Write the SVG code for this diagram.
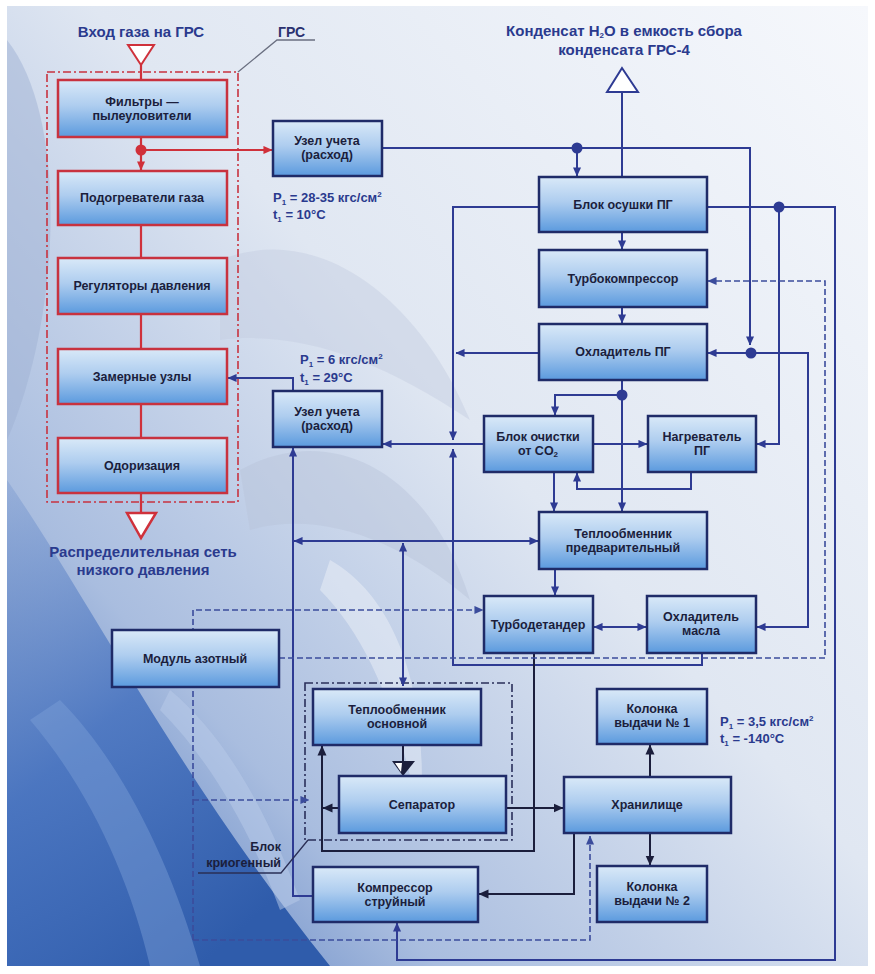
<svg xmlns="http://www.w3.org/2000/svg" width="875" height="974" viewBox="0 0 875 974">
  <defs>
    <linearGradient id="bg" x1="1" y1="0" x2="0" y2="1">
      <stop offset="0" stop-color="#f6f8fc"/>
      <stop offset="0.45" stop-color="#e0e7f2"/>
      <stop offset="0.75" stop-color="#a9bddf"/>
      <stop offset="1" stop-color="#3c68b5"/>
    </linearGradient>
    <linearGradient id="deep" x1="0" y1="0" x2="0.6" y2="1">
      <stop offset="0" stop-color="#7b9ad0" stop-opacity="0.4"/>
      <stop offset="0.5" stop-color="#4672bf" stop-opacity="0.85"/>
      <stop offset="1" stop-color="#2f5cab"/>
    </linearGradient>
    <linearGradient id="ng" x1="0" y1="0" x2="0" y2="1">
      <stop offset="0" stop-color="#d9e9f8"/>
      <stop offset="0.45" stop-color="#aecdef"/>
      <stop offset="1" stop-color="#5b9ade"/>
    </linearGradient>
    <marker id="ab" viewBox="0 0 10 10" refX="9.5" refY="5" markerWidth="9" markerHeight="9" markerUnits="userSpaceOnUse" orient="auto-start-reverse">
      <path d="M0,0.5 L10,5 L0,9.5 z" fill="#2e3b93"/>
    </marker>
    <marker id="ak" viewBox="0 0 10 10" refX="9.5" refY="5" markerWidth="10" markerHeight="10" markerUnits="userSpaceOnUse" orient="auto-start-reverse">
      <path d="M0,0.5 L10,5 L0,9.5 z" fill="#1b1e3c"/>
    </marker>
    <marker id="ar" viewBox="0 0 10 10" refX="9.5" refY="5" markerWidth="9" markerHeight="9" markerUnits="userSpaceOnUse" orient="auto">
      <path d="M0,0.5 L10,5 L0,9.5 z" fill="#d0303a"/>
    </marker>
    <marker id="ad" viewBox="0 0 10 10" refX="9.5" refY="5" markerWidth="9" markerHeight="9" markerUnits="userSpaceOnUse" orient="auto">
      <path d="M0,0.5 L10,5 L0,9.5 z" fill="#3b4c9c"/>
    </marker>
    <style>
      .node rect { fill: url(#ng); stroke: #1f2b68; stroke-width: 2.5; }
      .grs rect { stroke: #c8323f; }
      text { font-family: "Liberation Sans", Arial, sans-serif; font-weight: bold; }
      .lbl { font-size: 12.5px; fill: #1b1e3c; text-anchor: middle; }
      .hd { font-size: 15px; fill: #2a3a8e; text-anchor: middle; }
      .prm { font-size: 13px; fill: #2a3a8e; }
      .c { stroke: #2e3b93; stroke-width: 2; fill: none; }
      .k { stroke: #1b1e3c; stroke-width: 2; fill: none; }
      .r { stroke: #cf313b; stroke-width: 2.2; fill: none; }
      .d { stroke: #3b4c9c; stroke-width: 1.6; fill: none; stroke-dasharray: 6 3; }
      .cb { marker-end: url(#ab); }
      .ck { marker-end: url(#ak); }
      .cr { marker-end: url(#ar); }
      .cd { marker-end: url(#ad); }
      .both { marker-start: url(#ab); marker-end: url(#ab); }
    </style>
  </defs>

  <!-- backdrop -->
  <rect width="875" height="974" fill="#ffffff"/>
  <g id="backdrop">
    <rect x="7" y="6" width="861" height="960" fill="url(#bg)"/>
    <path d="M7,40 C70,120 60,320 7,440 Z" fill="#9fb2d4" opacity="0.5"/>
    <path d="M7,480 C90,600 180,780 330,966 L7,966 Z" fill="url(#deep)"/>
    <path d="M60,700 C120,760 170,860 200,966 L150,966 C130,880 90,790 30,720 Z" fill="#7d9fd6" opacity="0.45"/>
    <path d="M170,690 C230,740 270,820 300,900 L280,910 C250,830 210,760 160,710 Z" fill="#b9cbea" opacity="0.5"/>
    <path d="M220,260 C320,220 420,300 470,420 C380,360 300,330 220,340 Z" fill="#c4cde0" opacity="0.45"/>
    <path d="M240,470 C330,420 430,470 470,600 C400,540 320,510 250,530 Z" fill="#b8c3d9" opacity="0.45"/>
    <path d="M330,560 C400,600 430,700 420,820 C400,720 370,640 320,590 Z" fill="#ffffff" opacity="0.35"/>
  </g>

  <!-- group frames -->
  <g id="frames">
    <rect x="47" y="72" width="191" height="430" fill="none" stroke="#c8323f" stroke-width="1.6" stroke-dasharray="8 3 2 3"/>
    <rect x="305" y="683" width="207" height="157" fill="none" stroke="#2a2f5a" stroke-width="1.6" stroke-dasharray="8 3 2 3"/>
  </g>

  <!-- connectors -->
  <g id="connectors">
    <!-- gas station line -->
    <path class="r" d="M141,65 V80"/>
    <path class="r cr" d="M141,137 V170"/>
    <path class="r cr" d="M141,150 H272"/>
    <path class="r" d="M141,225 V258"/>
    <path class="r" d="M141,314 V349"/>
    <path class="r" d="M141,404 V438"/>
    <path class="r" d="M141,493 V513"/>
    <circle cx="141" cy="150" r="5.5" fill="#d0303a"/>

    <!-- process gas -->
    <path class="c cb" d="M382,148 H750 V345"/>
    <path class="c cb" d="M577,148 V176"/>
    <path class="c" d="M622,177 V92"/>
    <path class="c cb" d="M539,207 H453 V440"/>
    <path class="c cb" d="M707,207 H835 V960 H397 V923"/>
    <path class="c cb" d="M779,207 V444 H757"/>
    <path class="c cb" d="M622,232 V249"/>
    <path class="c cb" d="M622,307 V323"/>
    <path class="c cb" d="M751,353 H708"/>
    <path class="c cb" d="M751,353 H808 V627 H757"/>
    <path class="c cb" d="M539,353 H456"/>
    <path class="c cb" d="M622,380 V511"/>
    <path class="c cb" d="M622,395 H555 V415"/>
    <path class="c cb" d="M484,444 H383"/>
    <path class="c cb" d="M593,444 H647"/>
    <path class="c cb" d="M691,472 V489 H577 V473"/>
    <path class="c cb" d="M554,472 V511"/>
    <path class="c cb" d="M555,569 V595"/>
    <path class="c both" d="M294,541 H538"/>
    <path class="c both" d="M403,543 V686"/>
    <path class="c both" d="M594,627 H646"/>
    <path class="c cb" d="M702,653 V665 H453 V449"/>
    <path class="c cb" d="M293,391 V378 H228"/>
    <path class="c cb" d="M313,896 H293 V448"/>
    <circle cx="577" cy="148" r="5.5" fill="#2e3b93"/>
    <circle cx="779" cy="207" r="5.5" fill="#2e3b93"/>
    <circle cx="751" cy="353" r="5.5" fill="#2e3b93"/>
    <circle cx="622" cy="395" r="5.5" fill="#2e3b93"/>

    <!-- cryogenic part -->
    <path class="k ck" d="M534,653 V851 H322 V746"/>
    <path class="k ck" d="M339,808 H323"/>
    <path class="k" d="M403,745 V762"/>
    <polygon points="392,761 415,761 403,776" fill="#1b1e3c"/>
    <polygon points="395,763 402,763 401,772" fill="#ffffff"/>
    <path class="k ck" d="M506,808 H563"/>
    <path class="k ck" d="M650,777 V745"/>
    <path class="k ck" d="M650,833 V865"/>
    <path class="k ck" d="M574,833 V894 H479"/>

    <!-- nitrogen -->
    <path class="d cd" d="M193,940 V610 H483"/>
    <path class="d cd" d="M193,800 H309"/>
    <path class="d cd" d="M193,940 H590 V836"/>
    <path class="d cd" d="M279,658 H825 V281 H708"/>

    <!-- leaders -->
    <path d="M315,40 H277 L238,72" fill="none" stroke="#6a6f80" stroke-width="1.3"/>
    <path d="M198,873 H281 L308,840" fill="none" stroke="#2a2f55" stroke-width="1.3"/>
  </g>

  <!-- inlet / outlet symbols -->
  <g id="terminals">
    <polygon points="128,45 154,45 141,65" fill="#ffffff" stroke="#cf313b" stroke-width="2"/>
    <polygon points="127,513 156,513 141,538" fill="#ffffff" stroke="#cf313b" stroke-width="2.5"/>
    <polygon points="622,68 607,92 638,92" fill="#ffffff" stroke="#2e3b93" stroke-width="2"/>
  </g>

  <!-- nodes -->
  <g id="filters" class="node grs"><rect x="58" y="80" width="169" height="57"/>
    <text class="lbl" x="142" y="106">Фильтры —</text><text class="lbl" x="142" y="120">пылеуловители</text></g>
  <g id="heaters" class="node grs"><rect x="58" y="171" width="169" height="54"/>
    <text class="lbl" x="142" y="202">Подогреватели газа</text></g>
  <g id="regulators" class="node grs"><rect x="58" y="258" width="169" height="56"/>
    <text class="lbl" x="142" y="290">Регуляторы давления</text></g>
  <g id="metering" class="node grs"><rect x="58" y="349" width="169" height="55"/>
    <text class="lbl" x="142" y="381">Замерные узлы</text></g>
  <g id="odorization" class="node grs"><rect x="58" y="438" width="169" height="55"/>
    <text class="lbl" x="142" y="470">Одоризация</text></g>

  <g id="meter-in" class="node"><rect x="273" y="121" width="109" height="55"/>
    <text class="lbl" x="327" y="145">Узел учета</text><text class="lbl" x="327" y="159">(расход)</text></g>
  <g id="meter-out" class="node"><rect x="273" y="391" width="109" height="56"/>
    <text class="lbl" x="327" y="416">Узел учета</text><text class="lbl" x="327" y="430">(расход)</text></g>
  <g id="dryer" class="node"><rect x="539" y="177" width="168" height="55"/>
    <text class="lbl" x="623" y="209">Блок осушки ПГ</text></g>
  <g id="turbocompressor" class="node"><rect x="539" y="250" width="168" height="57"/>
    <text class="lbl" x="623" y="283">Турбокомпрессор</text></g>
  <g id="gas-cooler" class="node"><rect x="539" y="324" width="168" height="56"/>
    <text class="lbl" x="623" y="356">Охладитель ПГ</text></g>
  <g id="co2-removal" class="node"><rect x="484" y="416" width="109" height="56"/>
    <text class="lbl" x="538" y="441">Блок очистки</text><text class="lbl" x="538" y="455">от CO<tspan font-size="8" dy="2">2</tspan></text></g>
  <g id="gas-heater" class="node"><rect x="648" y="416" width="108" height="56"/>
    <text class="lbl" x="702" y="441">Нагреватель</text><text class="lbl" x="702" y="455">ПГ</text></g>
  <g id="pre-exchanger" class="node"><rect x="539" y="512" width="168" height="57"/>
    <text class="lbl" x="623" y="538">Теплообменник</text><text class="lbl" x="623" y="552">предварительный</text></g>
  <g id="expander" class="node"><rect x="484" y="596" width="109" height="57"/>
    <text class="lbl" x="538" y="629">Турбодетандер</text></g>
  <g id="oil-cooler" class="node"><rect x="647" y="596" width="109" height="57"/>
    <text class="lbl" x="701" y="621">Охладитель</text><text class="lbl" x="701" y="635">масла</text></g>
  <g id="nitrogen-module" class="node"><rect x="112" y="630" width="167" height="57"/>
    <text class="lbl" x="195" y="663">Модуль азотный</text></g>
  <g id="main-exchanger" class="node"><rect x="313" y="689" width="168" height="56"/>
    <text class="lbl" x="397" y="714">Теплообменник</text><text class="lbl" x="397" y="728">основной</text></g>
  <g id="separator" class="node"><rect x="339" y="776" width="167" height="57"/>
    <text class="lbl" x="422" y="809">Сепаратор</text></g>
  <g id="storage" class="node"><rect x="564" y="777" width="167" height="56"/>
    <text class="lbl" x="647" y="809">Хранилище</text></g>
  <g id="column-1" class="node"><rect x="597" y="689" width="110" height="55"/>
    <text class="lbl" x="652" y="713">Колонка</text><text class="lbl" x="652" y="727">выдачи № 1</text></g>
  <g id="column-2" class="node"><rect x="597" y="866" width="110" height="56"/>
    <text class="lbl" x="652" y="891">Колонка</text><text class="lbl" x="652" y="905">выдачи № 2</text></g>
  <g id="jet-compressor" class="node"><rect x="313" y="867" width="165" height="55"/>
    <text class="lbl" x="395" y="892">Компрессор</text><text class="lbl" x="395" y="906">струйный</text></g>

  <!-- captions -->
  <g id="captions">
    <text class="hd" x="141" y="37">Вход газа на ГРС</text>
    <text x="278" y="37" font-size="14" fill="#2a3170">ГРС</text>
    <text class="hd" x="624" y="36">Конденсат H<tspan font-size="8" dy="2">2</tspan><tspan dy="-2">O в емкость сбора</tspan></text>
    <text class="hd" x="624" y="55">конденсата ГРС-4</text>
    <text class="hd" x="143" y="557" font-size="16" fill="#2d4da0">Распределительная сеть</text>
    <text class="hd" x="143" y="575" font-size="16" fill="#2d4da0">низкого давления</text>
    <text class="prm" x="273" y="202">P<tspan font-size="8" dy="3">1</tspan><tspan dy="-3"> = 28-35 кгс/см</tspan><tspan font-size="8" dy="-5">2</tspan></text>
    <text class="prm" x="273" y="219">t<tspan font-size="8" dy="3">1</tspan><tspan dy="-3"> = 10°C</tspan></text>
    <text class="prm" x="300" y="364">P<tspan font-size="8" dy="3">1</tspan><tspan dy="-3"> = 6 кгс/см</tspan><tspan font-size="8" dy="-5">2</tspan></text>
    <text class="prm" x="300" y="382">t<tspan font-size="8" dy="3">1</tspan><tspan dy="-3"> = 29°C</tspan></text>
    <text class="prm" x="720" y="726">P<tspan font-size="8" dy="3">1</tspan><tspan dy="-3"> = 3,5 кгс/см</tspan><tspan font-size="8" dy="-5">2</tspan></text>
    <text class="prm" x="720" y="743">t<tspan font-size="8" dy="3">1</tspan><tspan dy="-3"> = -140°C</tspan></text>
    <text x="281" y="851" font-size="12.5" fill="#1b1e3c" text-anchor="end">Блок</text>
    <text x="281" y="867" font-size="12.5" fill="#1b1e3c" text-anchor="end">криогенный</text>
  </g>
</svg>
